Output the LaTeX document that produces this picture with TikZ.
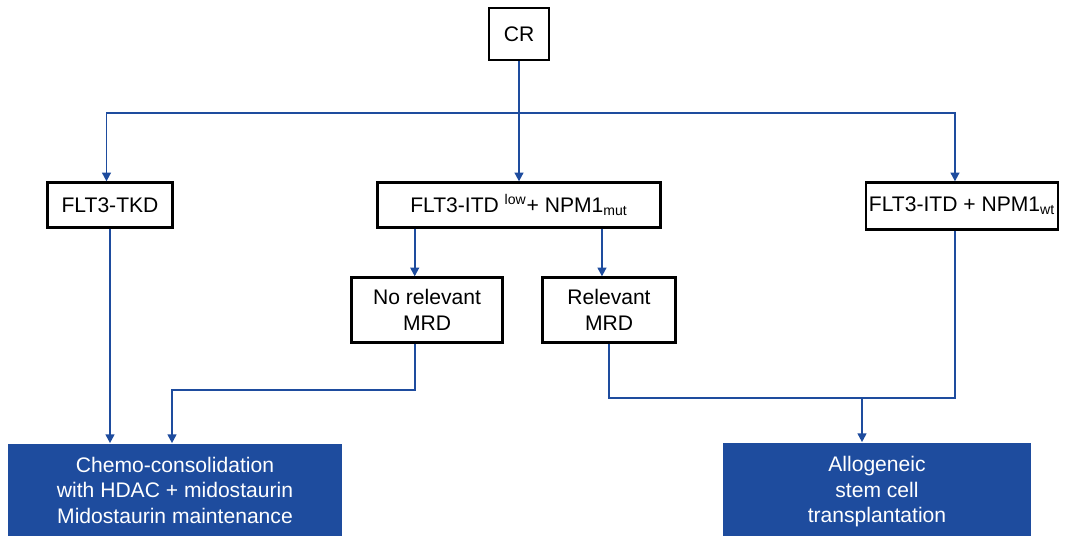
\documentclass[tikz,border=0pt]{standalone}
\usepackage{fontspec}
\setmainfont{Liberation Sans}
\usepackage{xcolor}
\usetikzlibrary{arrows.meta}
\definecolor{flowblue}{HTML}{1E4C9E}
\tikzstyle{plainbox} = [draw=black, fill=white, line width=1.3pt,
    rectangle, inner sep=0pt, align=center]
\tikzstyle{outcome} = [fill=flowblue, text=white, rectangle,
    inner sep=0pt, align=center]
\tikzstyle{link} = [draw=flowblue, line width=1.1pt]
\tikzstyle{arrow} = [link, -{Triangle[length=5pt,width=5pt]}]

\begin{document}
\begin{tikzpicture}[x=0.02cm, y=-0.02cm,
    every node/.style={font=\fontsize{12}{14.5}\selectfont}]
\useasboundingbox (0,0) rectangle (1077,536);

\node [plainbox, minimum width=1.2cm, minimum height=1.04cm] (cr) at (519,34) {CR};
\node [plainbox, minimum width=2.5cm, minimum height=0.9cm] (tkd) at (110,205) {FLT3-TKD};
\node [plainbox, minimum width=5.66cm, minimum height=0.9cm] (itd) at (519,205)
    {FLT3-ITD \textsuperscript{low}+ NPM1\textsubscript{mut}};
\node [plainbox, minimum width=3.84cm, minimum height=0.94cm] (wt) at (962,206)
    {FLT3-ITD + NPM1\textsubscript{wt}};
\node [plainbox, minimum width=3.02cm, minimum height=1.3cm] (norel) at (427,310)
    {No relevant\\MRD};
\node [plainbox, minimum width=2.66cm, minimum height=1.3cm] (rel) at (609,310)
    {Relevant\\MRD};
\node [outcome, minimum width=6.7cm, minimum height=1.86cm] (chemo) at (175,490)
    {Chemo-consolidation\\with HDAC + midostaurin\\Midostaurin maintenance};
\node [outcome, minimum width=6.18cm, minimum height=1.98cm] (allo) at (877,492)
    {Allogeneic\\stem cell\\transplantation};

% branch points
\coordinate (split) at (519,113);
\coordinate (leftjoin) at (172,390);
\coordinate (rightjoin) at (862,398);

\draw [link] (cr.south) -- (split);
\draw [arrow] (split) -| ([xshift=-2]tkd.north);
\draw [arrow] (split) -- (split |- itd.north);
\draw [arrow] (split) -| ([xshift=-4]wt.north);

\draw [arrow] ([xshift=-7]norel.north |- itd.south) -- ([xshift=-7]norel.north);
\draw [arrow] ([xshift=-4]rel.north |- itd.south) -- ([xshift=-4]rel.north);

\draw [arrow] (tkd.south) -- (tkd.south |- chemo.north);
\draw [arrow] ([xshift=-7]norel.south) |- (leftjoin) -- (leftjoin |- chemo.north);

\draw [link] (rel.south) |- (rightjoin);
\draw [link] ([xshift=-4]wt.south) |- (rightjoin);
\draw [arrow] (rightjoin) -- (rightjoin |- allo.north);
\end{tikzpicture}
\end{document}
